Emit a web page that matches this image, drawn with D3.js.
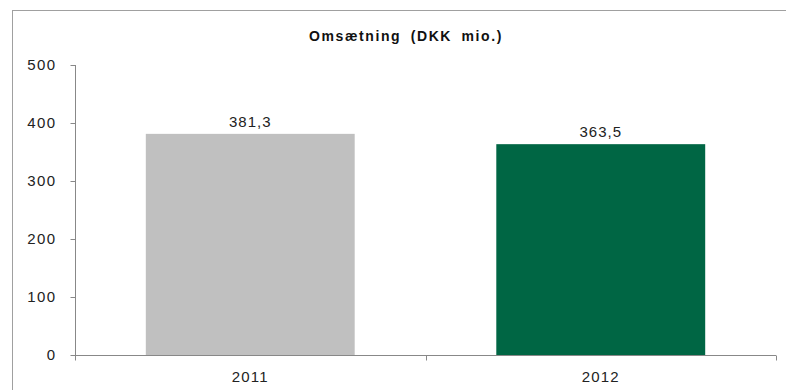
<!DOCTYPE html>
<html><head><meta charset="utf-8">
<script src="https://cdn.jsdelivr.net/npm/d3@7"></script>
<style>body{margin:0;background:#fff;}svg{display:block;font-family:"Liberation Sans",Arial,sans-serif;}</style>
</head><body>
<svg id="c" width="786" height="390"></svg>
<script>
const categories = ["2011", "2012"];
const values = [381.3, 363.5];
const valueLabels = ["381,3", "363,5"];
const barColors = ["#c0c0c0", "#006644"];
const yTicks = [0, 100, 200, 300, 400, 500];
const title = "Omsætning (DKK mio.)";

const svg = d3.select("#c");
// frame
svg.append("rect").attr("x", 12.5).attr("y", 10.5).attr("width", 800).attr("height", 400)
  .attr("fill", "none").attr("stroke", "#a0a0a0").attr("stroke-width", 1);

const x0 = 75, x1 = 776, yTop = 65, yBot = 355;
const x = d3.scaleBand().domain(categories).range([x0, x1]).paddingInner(0.404).paddingOuter(0.202);
const y = d3.scaleLinear().domain([0, 500]).range([yBot, yTop]);

svg.append("text").attr("x", 406).attr("y", 41).attr("text-anchor", "middle")
  .attr("font-size", 14).attr("font-weight", "bold").attr("letter-spacing", 1.6).attr("word-spacing", 4)
  .attr("fill", "#111").text(title);

svg.selectAll(".bar").data(values).enter().append("rect")
  .attr("x", (d, i) => x(categories[i])).attr("width", x.bandwidth())
  .attr("y", d => y(d)).attr("height", d => y(0) - y(d)).attr("fill", (d, i) => barColors[i]);

svg.selectAll(".vl").data(values).enter().append("text")
  .attr("x", (d, i) => x(categories[i]) + x.bandwidth() / 2).attr("y", d => y(d) - 7)
  .attr("text-anchor", "middle").attr("font-size", 15).attr("letter-spacing", 1).attr("fill", "#222")
  .text((d, i) => valueLabels[i]);

const yAxis = d3.axisLeft(y).tickValues(yTicks).tickSize(5).tickPadding(14).tickFormat(d3.format("d"));
const gy = svg.append("g").attr("transform", `translate(${x0 + 0.5},0)`).call(yAxis);
gy.select(".domain").attr("stroke", "#888").attr("d", `M0,${yTop}V${yBot}`);
gy.selectAll(".tick line").attr("stroke", "#888");
gy.selectAll(".tick text").attr("font-size", 15).attr("letter-spacing", 1.4).attr("fill", "#222")
  .attr("font-family", "Liberation Sans, Arial, sans-serif");

// x axis
const gx = svg.append("g").attr("transform", `translate(0,${yBot + 0.5})`);
gx.append("path").attr("d", `M${x0},0H${x1}`).attr("stroke", "#888").attr("fill", "none");
const bounds = [x0, (x(categories[0]) + x.bandwidth() + x(categories[1])) / 2, x1];
gx.selectAll(".tk").data(bounds).enter().append("line")
  .attr("x1", d => Math.round(d) + 0.5).attr("x2", d => Math.round(d) + 0.5).attr("y1", 0).attr("y2", 5).attr("stroke", "#888");
gx.selectAll(".xl").data(categories).enter().append("text")
  .attr("x", d => x(d) + x.bandwidth() / 2).attr("y", 26).attr("text-anchor", "middle")
  .attr("font-size", 15).attr("letter-spacing", 1.2).attr("fill", "#222").text(d => d);
</script>
</body></html>
